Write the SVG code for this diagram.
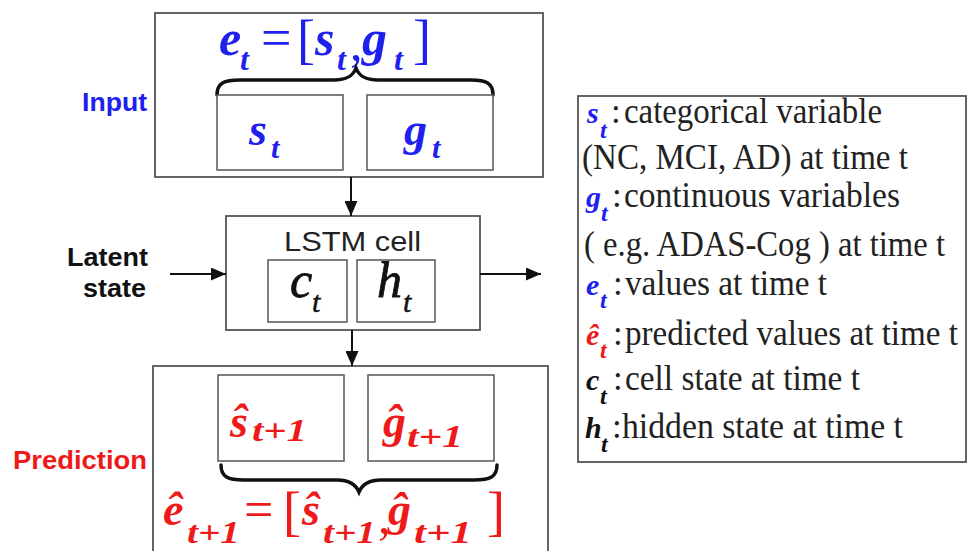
<svg xmlns="http://www.w3.org/2000/svg" width="967" height="551" viewBox="0 0 967 551">
<style>
.box{fill:#fff;stroke:#555;stroke-width:1.8}
.ibox{fill:#fff;stroke:#555;stroke-width:1.5}
.lbl{font-family:"Liberation Sans",Arial,sans-serif;font-weight:bold;font-size:25px}
.blue{fill:#2020ee}
.red{fill:#ee1a1a}
.m{font-family:"Liberation Serif","Times New Roman",serif;font-weight:bold;font-style:italic}
.r{font-family:"Liberation Serif","Times New Roman",serif}
.lt{font-family:"Liberation Serif","Times New Roman",serif;font-size:35px;fill:#222}
.brace{fill:none;stroke:#111;stroke-width:3.5;stroke-linecap:round}
.conn{stroke:#111;stroke-width:2;fill:none}
</style>
<defs>
<marker id="ah" markerUnits="userSpaceOnUse" markerWidth="15" markerHeight="13" refX="15" refY="6.5" orient="auto">
<path d="M0,0 L15,6.5 L0,13 z" fill="#111"/>
</marker>
</defs>
<rect width="967" height="551" fill="#fff"/>

<g id="input">
<rect class="box" x="155" y="13" width="388" height="164"/>
<text class="lbl blue" x="82" y="111" textLength="65" lengthAdjust="spacingAndGlyphs">Input</text>
<text class="m blue" x="219" y="55" font-size="50">e</text>
<text class="m blue" x="240" y="70" font-size="32">t</text>
<text class="r blue" x="261" y="56" font-size="54">=</text>
<text class="r blue" x="297" y="58" font-size="54">[</text>
<text class="m blue" x="315" y="55" font-size="50">s</text>
<text class="m blue" x="337" y="70" font-size="32">t</text>
<text class="r blue" x="350" y="60" font-size="50">,</text>
<text class="m blue" x="362" y="55" font-size="50">g</text>
<text class="m blue" x="394" y="70" font-size="32">t</text>
<text class="r blue" x="413" y="58" font-size="54">]</text>
<path class="brace" d="M217,95 C217,83 224,80 240,80 L334,80 C347,80 353,76 356,68 C359,76 365,80 378,80 L471,80 C486,80 493,83 493,95"/>
<g id="input-s">
<rect class="ibox" x="217" y="95" width="126" height="75"/>
<text class="m blue" x="249" y="145" font-size="46">s</text>
<text class="m blue" x="271" y="158" font-size="30">t</text>
</g>
<g id="input-g">
<rect class="ibox" x="367" y="95" width="126" height="75"/>
<text class="m blue" x="404" y="145" font-size="46">g</text>
<text class="m blue" x="432" y="158" font-size="30">t</text>
</g>
</g>

<g id="lstm">
<rect class="box" x="226" y="216" width="254" height="114"/>
<text x="284" y="251" font-family="Liberation Sans,Arial,sans-serif" font-size="27" fill="#222" textLength="137" lengthAdjust="spacingAndGlyphs">LSTM cell</text>
<g id="lstm-c">
<rect class="ibox" x="268" y="260" width="79" height="62"/>
<text x="290" y="297" font-family="Liberation Serif,serif" font-style="italic" font-size="50" fill="#111" stroke="#111" stroke-width="0.8">c</text>
<text x="312" y="312" font-family="Liberation Serif,serif" font-style="italic" font-size="30" fill="#111" stroke="#111" stroke-width="0.5">t</text>
</g>
<g id="lstm-h">
<rect class="ibox" x="357" y="260" width="78" height="62"/>
<text x="377" y="297" font-family="Liberation Serif,serif" font-style="italic" font-size="50" fill="#111" stroke="#111" stroke-width="0.8">h</text>
<text x="403" y="312" font-family="Liberation Serif,serif" font-style="italic" font-size="30" fill="#111" stroke="#111" stroke-width="0.5">t</text>
</g>
</g>

<g id="latent">
<text class="lbl" x="67" y="266" fill="#111" textLength="81" lengthAdjust="spacingAndGlyphs">Latent</text>
<text class="lbl" x="83" y="297" fill="#111" textLength="63" lengthAdjust="spacingAndGlyphs">state</text>
</g>

<g id="prediction">
<rect class="box" x="153" y="366" width="395" height="200"/>
<text class="lbl red" x="13" y="469" textLength="134" lengthAdjust="spacingAndGlyphs">Prediction</text>
<g id="pred-s">
<rect class="ibox" x="218" y="375" width="126" height="86"/>
<text class="m red" x="230" y="437" font-size="46">ŝ</text>
<text class="m red" x="252" y="441" font-size="32" textLength="55" lengthAdjust="spacingAndGlyphs">t+1</text>
</g>
<g id="pred-g">
<rect class="ibox" x="368" y="375" width="126" height="86"/>
<text class="m red" x="383" y="437" font-size="46">ĝ</text>
<text class="m red" x="407" y="447" font-size="32" textLength="56" lengthAdjust="spacingAndGlyphs">t+1</text>
</g>
<path class="brace" d="M221,465 C221,477 228,480 244,480 L337,480 C350,480 356,485 359,492 C362,485 368,480 381,480 L474,480 C490,480 497,477 497,465"/>
<text class="m red" x="163" y="525" font-size="46">ê</text>
<text class="m red" x="187" y="543" font-size="32" textLength="53" lengthAdjust="spacingAndGlyphs">t+1</text>
<text class="r red" x="244" y="527" font-size="52">=</text>
<text class="r red" x="283" y="530" font-size="54">[</text>
<text class="m red" x="302" y="525" font-size="46">ŝ</text>
<text class="m red" x="323" y="543" font-size="32" textLength="53" lengthAdjust="spacingAndGlyphs">t+1</text>
<text class="r red" x="378" y="533" font-size="50">,</text>
<text class="m red" x="388" y="525" font-size="46">ĝ</text>
<text class="m red" x="414" y="543" font-size="32" textLength="58" lengthAdjust="spacingAndGlyphs">t+1</text>
<text class="r red" x="487" y="530" font-size="54">]</text>
</g>

<g id="connectors">
<line class="conn" x1="351" y1="177" x2="351" y2="216" marker-end="url(#ah)"/>
<line class="conn" x1="352" y1="330" x2="352" y2="366" marker-end="url(#ah)"/>
<line class="conn" x1="170" y1="274" x2="226" y2="274" marker-end="url(#ah)"/>
<line class="conn" x1="480" y1="274" x2="541" y2="274" marker-end="url(#ah)"/>
</g>

<g id="legend">
<rect class="box" x="578" y="96" width="388" height="366"/>
<g id="leg-s">
<text class="m blue" x="587" y="123" font-size="30">s</text>
<text class="m blue" x="600" y="138" font-size="24">t</text>
<text class="lt" x="611" y="123">:</text>
<text class="lt" x="624" y="123" textLength="258" lengthAdjust="spacingAndGlyphs">categorical variable</text>
<text class="lt" x="582" y="169" textLength="326" lengthAdjust="spacingAndGlyphs">(NC, MCI, AD) at time t</text>
</g>
<g id="leg-g">
<text class="m blue" x="586" y="207" font-size="30">g</text>
<text class="m blue" x="601" y="221" font-size="24">t</text>
<text class="lt" x="612" y="207">:</text>
<text class="lt" x="624" y="207" textLength="276" lengthAdjust="spacingAndGlyphs">continuous variables</text>
<text class="lt" x="584" y="256" textLength="361" lengthAdjust="spacingAndGlyphs">( e.g. ADAS-Cog ) at time t</text>
</g>
<g id="leg-e">
<text class="m blue" x="586" y="295" font-size="30">e</text>
<text class="m blue" x="600" y="308" font-size="24">t</text>
<text class="lt" x="613" y="295">:</text>
<text class="lt" x="625" y="295" textLength="202" lengthAdjust="spacingAndGlyphs">values at time t</text>
</g>
<g id="leg-ehat">
<text class="m red" x="586" y="345" font-size="30">ê</text>
<text class="m red" x="600" y="358" font-size="24">t</text>
<text class="lt" x="613" y="345">:</text>
<text class="lt" x="625" y="345" textLength="333" lengthAdjust="spacingAndGlyphs">predicted values at time t</text>
</g>
<g id="leg-c">
<text class="m" x="586" y="390" font-size="30" fill="#111">c</text>
<text class="m" x="600" y="404" font-size="24" fill="#111">t</text>
<text class="lt" x="613" y="390">:</text>
<text class="lt" x="625" y="390" textLength="235" lengthAdjust="spacingAndGlyphs">cell state at time t</text>
</g>
<g id="leg-h">
<text class="m" x="585" y="438" font-size="30" fill="#111">h</text>
<text class="m" x="601" y="452" font-size="24" fill="#111">t</text>
<text class="lt" x="612" y="438">:</text>
<text class="lt" x="622" y="438" textLength="281" lengthAdjust="spacingAndGlyphs">hidden state at time t</text>
</g>
</g>
</svg>
